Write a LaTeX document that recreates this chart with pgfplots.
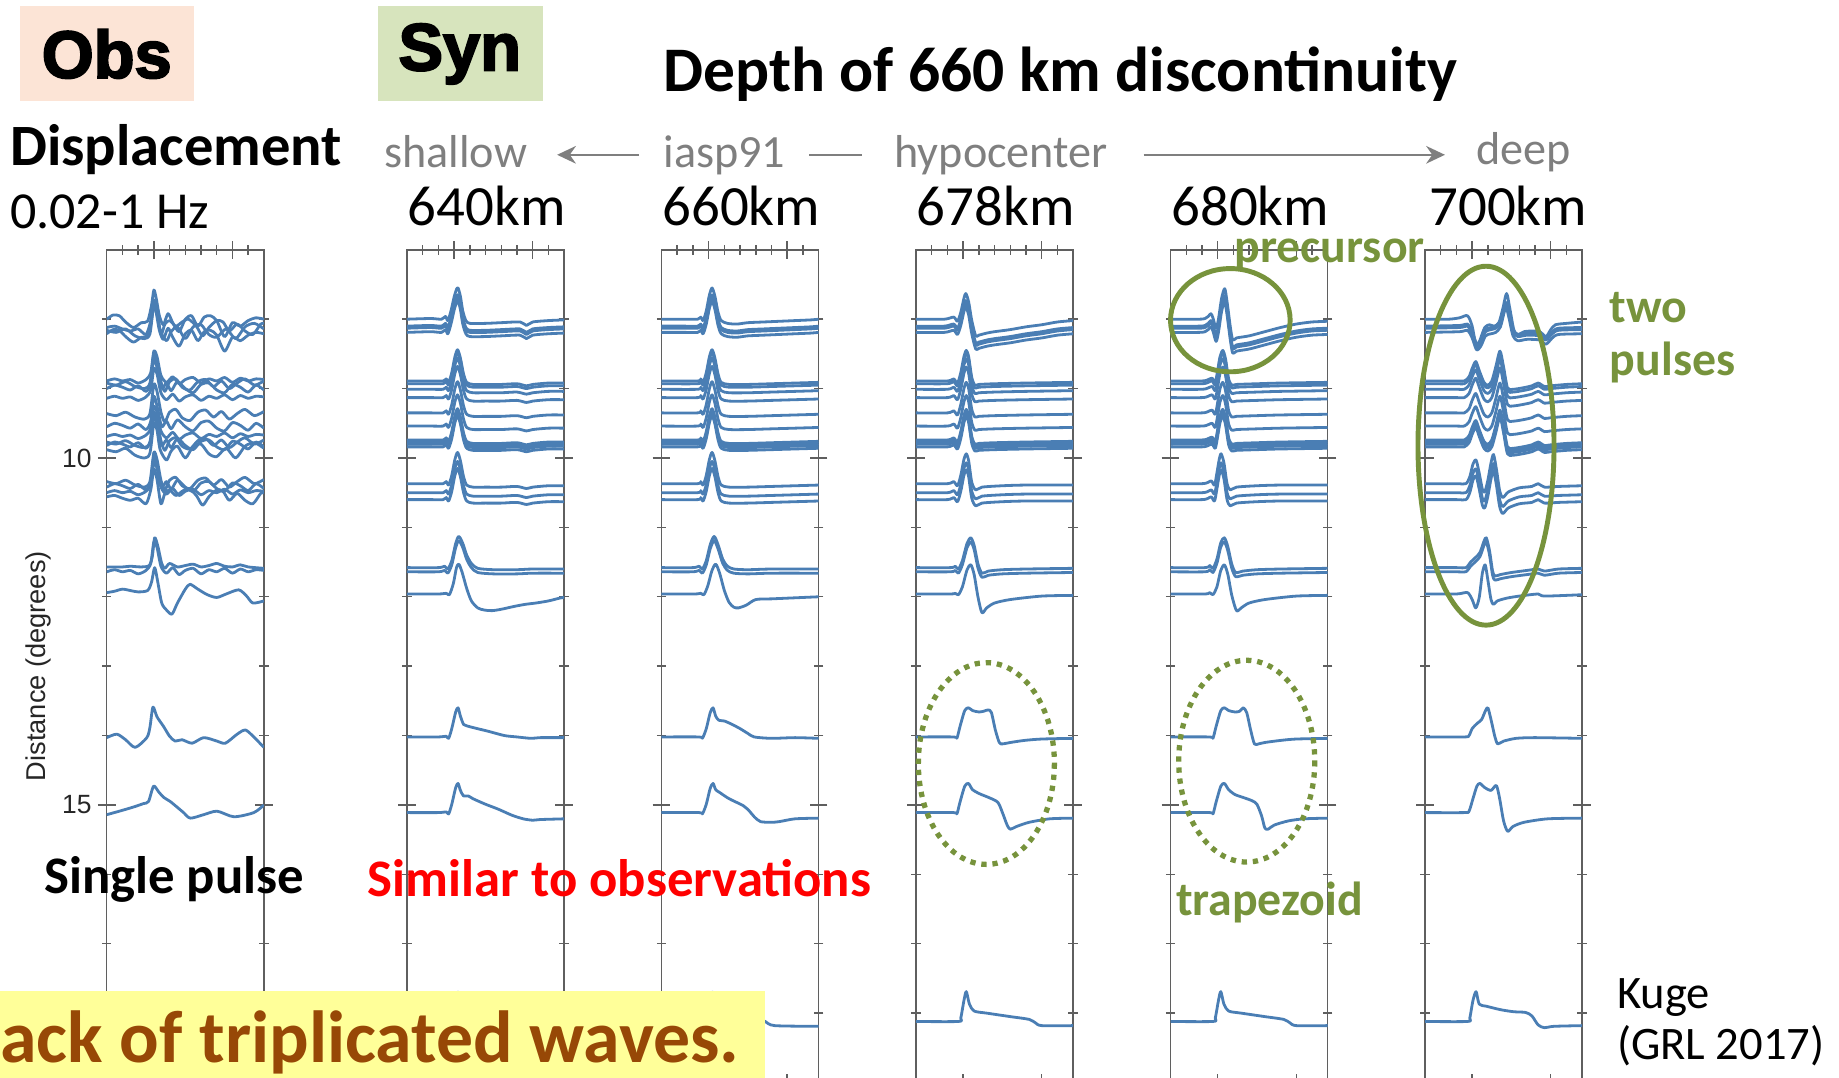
\documentclass[border=0pt]{standalone}
\usepackage{fontspec}
\setmainfont{Carlito}
\newfontfamily\tickfont{Liberation Sans}
\newfontfamily\blackfont{Liberation Sans}[BoldFeatures={FakeBold=3}]
\usepackage{pgfplots}
\usepackage{pgfplotstable}
\pgfplotsset{compat=1.18}
\usetikzlibrary{arrows.meta}
\definecolor{trc}{RGB}{74,126,180}
\definecolor{obsbg}{RGB}{252,228,214}
\definecolor{synbg}{RGB}{215,228,189}
\definecolor{annot}{RGB}{119,147,60}
\definecolor{gtext}{RGB}{127,127,127}
\definecolor{brown}{RGB}{151,72,6}
\definecolor{yel}{RGB}{255,255,153}
\definecolor{axc}{RGB}{95,95,95}

% ---------- observed waveform shapes (amplitude in degrees, up = positive) ----------
\pgfplotstableread[row sep=\\]{t a\\-3 0\\-2.6 0.06\\-2.2 0.05\\-1.8 -0.04\\-1.3 -0.12\\-0.8 -0.05\\-0.4 -0.03\\-0.15 0.2\\0 0.42\\0.15 0.3\\0.35 0.05\\0.6 -0.08\\0.9 0.08\\1.2 -0.05\\1.6 -0.18\\2.0 0.0\\2.4 0.05\\2.8 -0.1\\3.2 0.03\\3.6 0.05\\4.0 -0.02\\4.5 -0.25\\5.0 -0.05\\5.5 -0.1\\6.0 -0.02\\6.5 0.02\\7 0.0\\}\oA
\pgfplotstableread[row sep=\\]{t a\\-3 0\\-2.5 0.02\\-2 -0.02\\-1.5 -0.05\\-1 -0.02\\-0.5 -0.1\\-0.2 0.1\\0 0.4\\0.2 0.25\\0.45 -0.1\\0.7 0.05\\1.0 0.1\\1.4 0.02\\1.8 0.08\\2.2 0.12\\2.7 0.02\\3.1 -0.12\\3.5 0.0\\4.0 0.1\\4.4 0.08\\4.8 -0.05\\5.3 0.05\\5.8 -0.05\\6.3 -0.1\\6.8 0.05\\7 0.06\\}\oB
\pgfplotstableread[row sep=\\]{t a\\-3 0\\-2.4 -0.03\\-1.8 0.02\\-1.2 -0.08\\-0.6 -0.12\\-0.25 -0.05\\0 0.38\\0.2 0.28\\0.4 0.0\\0.8 -0.15\\1.1 -0.02\\1.5 0.05\\2.0 -0.12\\2.5 0.05\\3.0 0.08\\3.5 -0.06\\4.0 -0.1\\4.6 0.02\\5.2 -0.12\\5.8 0.05\\6.4 0.1\\7 0.02\\}\oC
\pgfplotstableread[row sep=\\]{t a\\-3 0\\-2.5 0.03\\-2 0.0\\-1.5 0.02\\-1 -0.03\\-0.5 0.02\\-0.2 0.12\\0 0.43\\0.2 0.35\\0.45 0.08\\0.8 -0.02\\1.2 0.06\\1.6 -0.04\\2.0 0.02\\2.5 0.05\\3.0 -0.03\\3.5 0.03\\4.0 0.0\\4.5 0.05\\5.0 -0.02\\5.5 0.04\\6.0 0.0\\6.5 0.03\\7 0.02\\}\oD
\pgfplotstableread[row sep=\\]{t a\\-3 0\\-2.4 -0.03\\-1.8 0.02\\-1.2 -0.05\\-0.6 -0.08\\-0.25 0.0\\0 0.42\\0.2 0.32\\0.45 0.02\\0.7 -0.12\\1.0 0.02\\1.4 0.06\\1.8 -0.06\\2.3 -0.1\\2.8 0.02\\3.3 0.05\\3.8 -0.05\\4.3 0.03\\4.8 -0.08\\5.3 0.0\\5.8 0.06\\6.4 -0.03\\7 0.03\\}\oE
\pgfplotstableread[row sep=\\]{t a\\-3 0\\-2.5 0.05\\-2 0.02\\-1.5 -0.02\\-1 0.04\\-0.5 -0.04\\-0.2 0.08\\0 0.44\\0.25 0.25\\0.5 0.0\\0.8 0.08\\1.1 -0.03\\1.5 0.1\\2.0 0.0\\2.5 -0.06\\3.0 0.06\\3.5 0.08\\4.0 -0.02\\4.5 -0.06\\5.0 0.06\\5.5 0.02\\6.0 -0.05\\6.5 0.05\\7 -0.02\\}\oF
\pgfplotstableread[row sep=\\]{t a\\-3 0\\-2 0.0\\-1.5 0.01\\-0.8 0.0\\-0.3 0.02\\-0.1 0.15\\0.05 0.42\\0.25 0.3\\0.5 0.05\\0.7 -0.02\\1.0 0.05\\1.5 0.0\\2.0 0.02\\2.5 0.04\\3.0 0.0\\3.5 0.02\\4.0 0.05\\4.5 0.01\\5.0 0.0\\5.5 0.03\\6.0 0.0\\7 -0.02\\}\oG
\pgfplotstableread[row sep=\\]{t a\\-3 0\\-2.5 0.02\\-2 0.05\\-1.5 0.03\\-1 0.01\\-0.4 0.03\\-0.15 0.15\\0.05 0.36\\0.25 0.15\\0.5 -0.15\\0.8 -0.25\\1.15 -0.31\\1.5 -0.15\\2.0 0.05\\2.3 0.12\\2.8 0.05\\3.4 -0.03\\4.0 -0.07\\4.6 -0.02\\5.4 0.04\\5.9 -0.05\\6.3 -0.15\\7 -0.12\\}\oH
\pgfplotstableread[row sep=\\]{t a\\-3 0\\-2.36 0.05\\-1.8 -0.03\\-1.19 -0.14\\-0.45 0.0\\-0.25 0.15\\-0.06 0.44\\0.2 0.3\\0.62 0.16\\1.0 0.02\\1.36 -0.05\\1.79 -0.03\\2.43 -0.08\\3.17 0.0\\4.02 -0.05\\4.55 -0.08\\5.3 0.05\\5.83 0.11\\6.4 0.0\\7 -0.14\\}\oN
\pgfplotstableread[row sep=\\]{t a\\-3 0\\-2.2 0.05\\-1.3 0.11\\-0.66 0.16\\-0.34 0.19\\-0.02 0.41\\0.3 0.33\\0.62 0.25\\1.04 0.19\\1.47 0.11\\1.89 0.03\\2.32 -0.05\\3.17 0.0\\4.02 0.05\\5.09 -0.03\\6.36 0.03\\7 0.14\\}\oP
% ---------- 640 km ----------
\pgfplotstableread[row sep=\\]{t a\\-3 0\\-1.5 0.01\\-0.8 0.0\\-0.55 0.04\\-0.4 -0.02\\-0.2 0.12\\0.0 0.32\\0.15 0.43\\0.25 0.45\\0.4 0.33\\0.55 0.12\\0.75 -0.02\\1.0 -0.06\\2.0 -0.06\\3.0 -0.05\\4.2 -0.04\\4.6 -0.09\\5.0 -0.04\\6.0 -0.02\\7.0 -0.01\\}\aA
\pgfplotstableread[row sep=\\]{t a\\-3 0\\-1.5 0.0\\-0.7 0.0\\-0.5 0.03\\-0.35 -0.02\\-0.15 0.12\\0.05 0.35\\0.22 0.45\\0.4 0.33\\0.6 0.1\\0.8 -0.02\\1.2 -0.05\\2.0 -0.05\\3.0 -0.05\\4.0 -0.04\\4.6 -0.07\\5.0 -0.05\\6.0 -0.03\\7 -0.03\\}\aB
\pgfplotstableread[row sep=\\]{t a\\-3 0\\-1 0.0\\-0.6 0.02\\-0.4 -0.02\\-0.15 0.1\\0.1 0.35\\0.3 0.45\\0.55 0.35\\0.8 0.18\\1.1 0.06\\1.5 -0.01\\2.5 -0.03\\4.0 -0.03\\5.0 -0.02\\7 -0.02\\}\aD
\pgfplotstableread[row sep=\\]{t a\\-3 0\\-1 0.0\\-0.5 0.01\\-0.3 -0.01\\-0.05 0.15\\0.15 0.38\\0.3 0.43\\0.5 0.32\\0.8 0.08\\1.1 -0.1\\1.5 -0.2\\1.9 -0.23\\2.4 -0.24\\3.0 -0.22\\3.8 -0.18\\4.5 -0.15\\5.2 -0.13\\6.0 -0.1\\6.7 -0.06\\7 -0.05\\}\aE
\pgfplotstableread[row sep=\\]{t a\\-3 0\\-1 0.0\\-0.5 0.01\\-0.35 -0.02\\-0.15 0.12\\0.1 0.36\\0.25 0.42\\0.4 0.3\\0.6 0.18\\0.8 0.16\\1.3 0.13\\2.2 0.08\\3.2 0.02\\4.0 0.0\\4.9 -0.02\\5.5 -0.01\\7 -0.01\\}\aN
\pgfplotstableread[row sep=\\]{t a\\-3 0\\-1 0.0\\-0.5 0.01\\-0.35 -0.02\\-0.15 0.12\\0.1 0.36\\0.25 0.42\\0.4 0.32\\0.6 0.24\\0.9 0.24\\1.2 0.2\\2.0 0.12\\2.8 0.05\\3.7 -0.04\\4.4 -0.09\\5.0 -0.11\\5.5 -0.1\\7 -0.09\\}\aP
\pgfplotstableread[row sep=\\]{t a\\-3 0\\-0.35 0\\-0.15 0.12\\0.1 0.36\\0.25 0.42\\0.45 0.2\\0.8 0.15\\2.0 0.1\\3.5 0.06\\4.2 0.03\\5.0 -0.06\\7 -0.06\\}\aR
% ---------- 660 km ----------
\pgfplotstableread[row sep=\\]{t a\\-3 0\\-1.5 0.0\\-0.7 0.0\\-0.5 0.03\\-0.35 -0.02\\-0.15 0.12\\0.05 0.35\\0.22 0.45\\0.4 0.33\\0.6 0.1\\0.8 -0.02\\1.2 -0.06\\1.8 -0.07\\2.5 -0.05\\3.5 -0.04\\4.5 -0.03\\5.5 -0.02\\6.5 -0.01\\7 0\\}\bA
\pgfplotstableread[row sep=\\]{t a\\-3 0\\-0.7 0\\-0.5 0.03\\-0.35 -0.02\\-0.15 0.12\\0.05 0.35\\0.22 0.45\\0.4 0.33\\0.6 0.1\\0.8 -0.02\\1.3 -0.05\\2.5 -0.05\\4.0 -0.04\\5.5 -0.03\\7 -0.02\\}\bB
\pgfplotstableread[row sep=\\]{t a\\-3 0\\-1 0\\-0.6 0.02\\-0.4 -0.02\\-0.15 0.1\\0.1 0.33\\0.35 0.45\\0.6 0.33\\0.9 0.12\\1.2 0.02\\1.6 -0.02\\2.5 -0.03\\4 -0.02\\7 -0.02\\}\bD
\pgfplotstableread[row sep=\\]{t a\\-3 0\\-0.9 0\\-0.5 0.01\\-0.3 -0.01\\-0.05 0.12\\0.2 0.33\\0.45 0.43\\0.7 0.3\\1.0 0.05\\1.3 -0.12\\1.6 -0.19\\1.9 -0.2\\2.4 -0.16\\3.0 -0.08\\4.0 -0.07\\5.0 -0.06\\6.0 -0.05\\7 -0.04\\}\bE
\pgfplotstableread[row sep=\\]{t a\\-3 0\\-0.6 0\\-0.4 -0.02\\-0.15 0.12\\0.1 0.35\\0.28 0.42\\0.45 0.3\\0.65 0.24\\1.0 0.23\\1.5 0.18\\2.0 0.12\\2.5 0.05\\2.9 0.0\\4.0 -0.02\\5.5 -0.01\\7 -0.02\\}\bN
\pgfplotstableread[row sep=\\]{t a\\-3 0\\-0.6 0\\-0.4 -0.02\\-0.15 0.12\\0.1 0.35\\0.28 0.42\\0.45 0.33\\0.7 0.29\\1.3 0.2\\2.2 0.1\\2.6 0.02\\2.9 -0.06\\3.3 -0.13\\4.0 -0.14\\4.5 -0.13\\5.5 -0.09\\7 -0.08\\}\bP
\pgfplotstableread[row sep=\\]{t a\\-3 0\\-0.35 0\\-0.15 0.12\\0.1 0.36\\0.25 0.42\\0.45 0.2\\0.8 0.16\\2.0 0.1\\3.0 0.06\\3.6 0.0\\4.2 -0.06\\7 -0.07\\}\bR
% ---------- 678 km ----------
\pgfplotstableread[row sep=\\]{t a\\-3 0\\-1.2 0.0\\-0.6 0.03\\-0.36 -0.03\\-0.15 0.1\\0.05 0.3\\0.17 0.37\\0.35 0.25\\0.55 -0.02\\0.8 -0.24\\1.0 -0.23\\1.5 -0.2\\2.0 -0.18\\3.0 -0.15\\4.0 -0.11\\5.0 -0.08\\6.0 -0.04\\7 -0.02\\}\cA
\pgfplotstableread[row sep=\\]{t a\\-3 0\\-1 0\\-0.6 0.03\\-0.36 -0.03\\-0.15 0.12\\0.05 0.35\\0.2 0.44\\0.35 0.35\\0.55 0.05\\0.75 -0.06\\1.0 -0.05\\2 -0.04\\4 -0.03\\7 -0.02\\}\cB
\pgfplotstableread[row sep=\\]{t a\\-3 0\\-1 0\\-0.6 0.03\\-0.36 -0.03\\-0.15 0.12\\0.05 0.35\\0.2 0.43\\0.35 0.33\\0.55 0.02\\0.8 -0.09\\1.2 -0.05\\2.5 -0.03\\4 -0.02\\7 -0.02\\}\cC
\pgfplotstableread[row sep=\\]{t a\\-3 0\\-0.8 0\\-0.5 0.02\\-0.3 -0.02\\-0.05 0.1\\0.25 0.35\\0.49 0.43\\0.7 0.32\\0.95 0.05\\1.2 -0.08\\1.6 -0.05\\2.5 -0.03\\4 -0.02\\7 -0.01\\}\cD
\pgfplotstableread[row sep=\\]{t a\\-3 0\\-0.8 0\\-0.5 0.01\\-0.3 -0.01\\-0.05 0.1\\0.25 0.35\\0.49 0.42\\0.7 0.28\\0.95 -0.05\\1.2 -0.27\\1.5 -0.2\\2.0 -0.13\\3.0 -0.08\\5.0 -0.03\\7 -0.02\\}\cE
\pgfplotstableread[row sep=\\]{t a\\-3 0\\-0.6 0\\-0.4 -0.02\\-0.2 0.15\\0.1 0.38\\0.34 0.42\\0.6 0.38\\1.0 0.36\\1.3 0.37\\1.6 0.39\\1.8 0.35\\2.05 0.1\\2.3 -0.08\\2.5 -0.1\\3.0 -0.08\\3.9 -0.05\\5 -0.03\\7 -0.02\\}\cN
\pgfplotstableread[row sep=\\]{t a\\-3 0\\-0.6 0\\-0.4 -0.02\\-0.2 0.15\\0.1 0.38\\0.34 0.42\\0.6 0.33\\1.06 0.27\\1.6 0.22\\2.2 0.15\\2.5 0.0\\2.8 -0.18\\3.0 -0.24\\3.4 -0.2\\4.2 -0.14\\5.5 -0.09\\7 -0.08\\}\cP
\pgfplotstableread[row sep=\\]{t a\\-3 0\\-0.3 0\\-0.15 0.05\\0.05 0.3\\0.2 0.43\\0.4 0.25\\0.7 0.15\\1.5 0.12\\3.0 0.07\\4.2 0.03\\4.6 -0.02\\5.0 -0.06\\7 -0.06\\}\cR
% ---------- 680 km ----------
\pgfplotstableread[row sep=\\]{t a\\-3 0\\-1.2 0.0\\-0.8 0.01\\-0.6 0.04\\-0.43 0.08\\-0.3 0.02\\-0.1 -0.13\\0.05 0.0\\0.25 0.3\\0.45 0.44\\0.6 0.25\\0.8 -0.1\\0.96 -0.3\\1.2 -0.27\\2.0 -0.24\\3.0 -0.18\\4.0 -0.12\\5.0 -0.07\\6.0 -0.04\\7 -0.03\\}\dA
\pgfplotstableread[row sep=\\]{t a\\-3 0\\-1 0\\-0.6 0.02\\-0.35 0.04\\-0.15 -0.02\\0.0 0.15\\0.15 0.35\\0.33 0.44\\0.5 0.32\\0.7 0.03\\0.9 -0.06\\1.2 -0.05\\2.5 -0.04\\4 -0.03\\7 -0.02\\}\dB
\pgfplotstableread[row sep=\\]{t a\\-3 0\\-1 0\\-0.6 0.02\\-0.4 0.04\\-0.2 -0.02\\-0.05 0.15\\0.1 0.35\\0.22 0.43\\0.4 0.3\\0.6 0.0\\0.8 -0.09\\1.2 -0.05\\2.5 -0.03\\4 -0.02\\7 -0.02\\}\dC
\pgfplotstableread[row sep=\\]{t a\\-3 0\\-0.8 0\\-0.5 0.03\\-0.3 -0.01\\-0.05 0.12\\0.2 0.36\\0.43 0.43\\0.65 0.3\\0.9 0.05\\1.15 -0.07\\1.6 -0.05\\2.5 -0.03\\4 -0.02\\7 -0.01\\}\dD
\pgfplotstableread[row sep=\\]{t a\\-3 0\\-0.8 0\\-0.5 0.02\\-0.3 -0.01\\-0.05 0.1\\0.2 0.34\\0.43 0.42\\0.65 0.28\\0.9 -0.02\\1.2 -0.24\\1.5 -0.2\\2.0 -0.13\\3.0 -0.08\\5.0 -0.03\\7 -0.02\\}\dE
\pgfplotstableread[row sep=\\]{t a\\-3 0\\-0.5 0\\-0.3 -0.02\\-0.1 0.15\\0.2 0.38\\0.43 0.42\\0.7 0.38\\1.1 0.36\\1.4 0.37\\1.63 0.42\\1.85 0.35\\2.1 0.1\\2.34 -0.1\\2.6 -0.1\\3.0 -0.08\\4.0 -0.05\\5 -0.03\\7 -0.02\\}\dN
\pgfplotstableread[row sep=\\]{t a\\-3 0\\-0.5 0\\-0.3 -0.02\\-0.1 0.15\\0.2 0.38\\0.43 0.42\\0.7 0.33\\1.1 0.26\\1.6 0.22\\2.2 0.17\\2.5 0.12\\2.8 -0.05\\3.0 -0.22\\3.2 -0.24\\3.6 -0.18\\4.5 -0.12\\5.5 -0.09\\7 -0.08\\}\dP
\pgfplotstableread[row sep=\\]{t a\\-3 0\\-0.3 0\\-0.15 0.05\\0.05 0.3\\0.2 0.43\\0.4 0.25\\0.7 0.15\\1.5 0.12\\3.0 0.07\\4.2 0.03\\4.6 -0.02\\5.0 -0.06\\7 -0.06\\}\dR
% ---------- 700 km ----------
\pgfplotstableread[row sep=\\]{t a\\-3 0\\-1.5 0.0\\-0.8 0.02\\-0.3 0.05\\0.0 -0.1\\0.28 -0.42\\0.5 -0.3\\0.8 -0.12\\1.1 -0.08\\1.4 -0.1\\1.7 -0.05\\1.95 0.15\\2.19 0.37\\2.4 0.15\\2.65 -0.15\\2.9 -0.22\\3.3 -0.18\\3.8 -0.17\\4.3 -0.18\\4.7 -0.25\\5.0 -0.15\\5.3 -0.08\\6.0 -0.06\\7 -0.04\\}\eA
\pgfplotstableread[row sep=\\]{t a\\-3 0\\-0.8 0.01\\-0.3 0.03\\0.0 -0.08\\0.28 -0.25\\0.55 -0.2\\0.85 -0.05\\1.2 -0.02\\1.5 0.0\\1.8 0.08\\2.05 0.3\\2.19 0.34\\2.35 0.2\\2.6 -0.05\\2.9 -0.12\\3.5 -0.1\\4.3 -0.11\\4.7 -0.17\\5.1 -0.08\\5.5 -0.03\\7 -0.02\\}\eF
\pgfplotstableread[row sep=\\]{t a\\-3 0\\-1 0\\-0.5 0.0\\-0.2 0.06\\0.0 0.18\\0.23 0.28\\0.45 0.15\\0.75 -0.02\\1.0 -0.06\\1.25 0.0\\1.5 0.2\\1.77 0.43\\2.0 0.2\\2.25 -0.1\\2.6 -0.12\\3.2 -0.1\\3.8 -0.07\\4.2 -0.03\\4.6 -0.08\\5.0 -0.07\\6.0 -0.05\\7 -0.04\\}\eB
\pgfplotstableread[row sep=\\]{t a\\-3 0\\-1 0\\-0.4 0.0\\-0.15 0.1\\0.05 0.28\\0.25 0.34\\0.45 0.15\\0.65 -0.08\\0.8 -0.12\\1.0 0.05\\1.2 0.3\\1.36 0.42\\1.55 0.2\\1.75 -0.1\\1.95 -0.2\\2.3 -0.12\\3.0 -0.06\\3.8 -0.04\\4.2 0.0\\4.6 -0.05\\5.5 -0.04\\7 -0.03\\}\eC
\pgfplotstableread[row sep=\\]{t a\\-3 0\\-1 0\\-0.4 0.0\\-0.1 0.08\\0.23 0.15\\0.5 0.22\\0.75 0.38\\0.9 0.43\\1.1 0.25\\1.3 -0.05\\1.45 -0.12\\1.8 -0.1\\2.5 -0.07\\3.5 -0.04\\4.2 -0.02\\4.6 -0.05\\5.5 -0.02\\7 -0.01\\}\eD
\pgfplotstableread[row sep=\\]{t a\\-3 0\\-1 0\\-0.3 0.02\\0.0 -0.08\\0.23 -0.2\\0.45 -0.05\\0.65 0.3\\0.83 0.42\\1.0 0.2\\1.2 -0.08\\1.36 -0.15\\1.6 -0.1\\2.2 -0.06\\3.0 -0.03\\4.2 0.0\\4.6 -0.03\\7 -0.01\\}\eE
\pgfplotstableread[row sep=\\]{t a\\-3 0\\-0.5 0\\-0.2 0.02\\0.0 0.12\\0.34 0.2\\0.6 0.25\\0.85 0.38\\1.0 0.42\\1.2 0.25\\1.45 0.0\\1.63 -0.1\\2.0 -0.06\\2.8 -0.02\\4 -0.01\\7 -0.02\\}\eN
\pgfplotstableread[row sep=\\]{t a\\-3 0\\-0.5 0\\-0.2 0.02\\0.05 0.2\\0.3 0.38\\0.49 0.42\\0.8 0.36\\1.2 0.32\\1.54 0.39\\1.75 0.2\\2.0 -0.12\\2.26 -0.27\\2.6 -0.2\\3.3 -0.14\\4.8 -0.09\\7 -0.08\\}\eP
\pgfplotstableread[row sep=\\]{t a\\-3 0\\-0.3 0\\-0.15 0.05\\0.05 0.3\\0.25 0.43\\0.45 0.25\\0.9 0.22\\1.8 0.17\\2.65 0.14\\3.4 0.13\\3.8 0.08\\4.2 -0.05\\4.6 -0.09\\5.2 -0.07\\7 -0.06\\}\eR

\pgfplotsset{
  trace/.style={color=trc, line width=0.68pt, smooth, tension=0.45, line join=round},
  panel/.style={
    scale only axis, width=13.4mm, height=71mm, anchor=north west,
    xmin=-3, xmax=7, ymin=7, ymax=19, y dir=reverse,
    xtick={0,5}, minor xtick={-2,-1,1,2,3,4,6}, xticklabels={},
    ytick={10,15}, minor ytick={8,9,11,12,13,14,16,17,18}, yticklabels={},
    tick align=center, major tick length=1.5mm, minor tick length=0.8mm,
    axis line style={axc, line width=0.35pt},
    every tick/.style={axc, line width=0.35pt},
    /pgf/number format/assume math mode=true,
  }
}
% distance offsets: y = distance - amplitude
\newcommand{\tr}[2]{\addplot[trace] table[x=t, y expr={#2-\thisrow{a}}] {#1};}
\newcommand{\syn}[8]{%
  \tr{#1}{8.00}\tr{#2}{8.10}\tr{#2}{8.13}\tr{#2}{8.19}%
  \tr{#3}{8.89}\tr{#3}{8.93}\tr{#3}{9.01}\tr{#3}{9.13}\tr{#3}{9.35}%
  \tr{#3}{9.54}\tr{#3}{9.74}\tr{#3}{9.77}\tr{#3}{9.80}\tr{#3}{9.84}%
  \tr{#4}{10.37}\tr{#4}{10.50}\tr{#4}{10.60}%
  \tr{#5}{11.58}\tr{#5}{11.64}\tr{#6}{11.96}%
  \tr{#7}{14.02}\tr{#8}{15.11}}

\begin{document}
\begin{tikzpicture}
\path[use as bounding box] (0,0) rectangle (156.8mm,-91.9mm);
\clip (0,0) rectangle (156.8mm,-91.9mm);

% ---------------- Obs panel ----------------
\begin{axis}[panel, at={(9.1mm,-21.3mm)},
  yticklabels={10,15},
  yticklabel style={font=\tickfont\fontsize{6.4}{7}\selectfont, text=black!85, xshift=0.7mm},
  ylabel={Distance (degrees)},
  ylabel style={font=\tickfont\fontsize{6.6}{8}\selectfont, text=black!85,
     at={(axis description cs:-0.433,0.5)}, anchor=center}]
\tr{\oA}{8.00}\tr{\oB}{8.12}\tr{\oC}{8.16}\tr{\oA}{8.21}
\tr{\oD}{8.89}\tr{\oE}{8.92}\tr{\oF}{9.00}\tr{\oD}{9.14}\tr{\oE}{9.36}
\tr{\oF}{9.55}\tr{\oD}{9.69}\tr{\oE}{9.77}\tr{\oF}{9.82}\tr{\oC}{9.88}
\tr{\oE}{10.34}\tr{\oF}{10.42}\tr{\oD}{10.50}\tr{\oB}{10.56}
\tr{\oG}{11.57}\tr{\oD}{11.64}\tr{\oH}{11.94}
\tr{\oN}{14.03}\tr{\oP}{15.14}
\end{axis}

% ---------------- 640 km ----------------
\begin{axis}[panel, at={(34.7mm,-21.3mm)}]
\syn{\aA}{\aA}{\aB}{\aB}{\aD}{\aE}{\aN}{\aP}
\tr{\aR}{18.12}
\end{axis}
% ---------------- 660 km ----------------
\begin{axis}[panel, at={(56.4mm,-21.3mm)}]
\syn{\bA}{\bA}{\bB}{\bB}{\bD}{\bE}{\bN}{\bP}
\tr{\bR}{18.12}
\end{axis}
% ---------------- 678 km ----------------
\begin{axis}[panel, at={(78.1mm,-21.3mm)}]
\syn{\cA}{\cA}{\cB}{\cC}{\cD}{\cE}{\cN}{\cP}
\tr{\cR}{18.12}
\end{axis}
% ---------------- 680 km ----------------
\begin{axis}[panel, at={(99.8mm,-21.3mm)}]
\syn{\dA}{\dA}{\dB}{\dC}{\dD}{\dE}{\dN}{\dP}
\tr{\dR}{18.12}
\end{axis}
% ---------------- 700 km ----------------
\begin{axis}[panel, at={(121.5mm,-21.3mm)}]
\syn{\eA}{\eF}{\eB}{\eC}{\eD}{\eE}{\eN}{\eP}
\tr{\eR}{18.12}
\end{axis}

\begin{scope}[x=0.1mm, y=-0.1mm]
% ---------------- header ----------------
\fill[obsbg] (17,5) rectangle (165,86);
\fill[synbg] (322,5) rectangle (463,86);
\node[font=\blackfont\bfseries\fontsize{16.2}{18}\selectfont, inner sep=0] at (91,46) {Obs};
\node[font=\blackfont\bfseries\fontsize{16.2}{18}\selectfont, inner sep=0] at (392,46) {Syn};
\node[anchor=base west, inner sep=0, font=\bfseries\fontsize{15.4}{18}\selectfont] at (565,78) {Depth of 660 km discontinuity};
\node[anchor=base west, inner sep=0, font=\bfseries\fontsize{14.2}{17}\selectfont] at (8,141) {Displacement};
\node[anchor=base west, inner sep=0, font=\fontsize{12.6}{15}\selectfont] at (8,195) {0.02-1 Hz};

\begin{scope}[every node/.style={anchor=base west, inner sep=0, text=gtext, font=\fontsize{11.2}{13}\selectfont}]
\node at (327,143) {shallow};
\node at (565,143) {iasp91};
\node at (762,143) {hypocenter};
\node at (1258,140) {deep};
\end{scope}
\draw[gtext, line width=0.2mm, -{Stealth[length=1.6mm, width=1.5mm]}] (545,132) -- (475,132);
\draw[gtext, line width=0.2mm] (690,132) -- (735,132);
\draw[gtext, line width=0.2mm, -{Stealth[length=1.6mm, width=1.5mm]}] (975,132) -- (1232,132);

\begin{scope}[every node/.style={anchor=base west, inner sep=0, font=\fontsize{13.8}{16}\selectfont}]
\node at (347,192) {640km};
\node at (564,192) {660km};
\node at (781,192) {678km};
\node at (998,192) {680km};
\node at (1218,192) {700km};
\end{scope}

% ---------------- annotations ----------------
\draw[annot, line width=0.42mm] (1049,273) ellipse [x radius=51, y radius=44];
\draw[annot, line width=0.42mm] (1267,380) ellipse [x radius=58, y radius=153];
\draw[annot, line width=0.45mm, dash pattern=on 0.45mm off 0.5mm] (841,651) ellipse [x radius=58, y radius=86];
\draw[annot, line width=0.45mm, dash pattern=on 0.45mm off 0.5mm] (1063,649) ellipse [x radius=58, y radius=86];

\begin{scope}[every node/.style={anchor=base west, inner sep=0, text=annot, font=\bfseries\fontsize{11.6}{14}\selectfont}]
\node at (1052,224) {precursor};
\node at (1372,275) {two};
\node at (1372,320) {pulses};
\node at (1002,781) {trapezoid};
\end{scope}

\node[anchor=base west, inner sep=0, font=\bfseries\fontsize{12.8}{15}\selectfont] at (37,762) {Single pulse};
\node[anchor=base west, inner sep=0, text=red, font=\bfseries\fontsize{12.8}{15}\selectfont] at (313,764) {Similar to observations};

\node[anchor=base west, inner sep=0, font=\fontsize{11.3}{13}\selectfont] at (1378,860) {Kuge};
\node[anchor=base west, inner sep=0, font=\fontsize{11.3}{13}\selectfont] at (1378,903) {(GRL 2017)};

\fill[yel] (0,845) rectangle (652,930);
\node[anchor=base west, inner sep=0, text=brown, font=\bfseries\fontsize{17.9}{21}\selectfont] at (-27,906) {Lack of triplicated waves.};
\end{scope}
\end{tikzpicture}
\end{document}
